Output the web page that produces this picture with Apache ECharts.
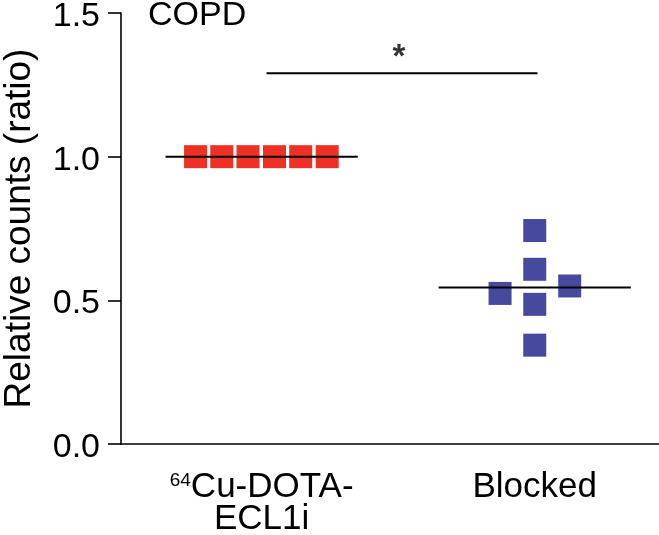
<!DOCTYPE html>
<html>
<head>
<meta charset="utf-8">
<script src="https://cdn.jsdelivr.net/npm/echarts@6/dist/echarts.min.js"></script>
<style>html,body{margin:0;padding:0;background:#fff}#c{width:659px;height:535px}</style>
</head>
<body>
<div id="c"></div>
<script>
// ---- data ----
const categories = ['64Cu-DOTA-ECL1i', 'Blocked'];
const copdValues = [1.0, 1.0, 1.0, 1.0, 1.0, 1.0];
const copdJitter = [-0.242, -0.146, -0.050, 0.047, 0.143, 0.240];
const blockedValues = [0.743, 0.608, 0.524, 0.486, 0.344, 0.550];
const blockedJitter = [0.0, 0.0, -0.127, 0.0, 0.0, 0.128];
const medians = [1.0, 0.545];
const yTicks = [0, 0.5, 1.0, 1.5];
const sigBarY = 1.29;
const sigLabel = '*';
const panelTitle = 'COPD';
const yAxisTitle = 'Relative counts (ratio)';

// ---- styling ----
const FONT = '"Liberation Sans", Arial, Helvetica, sans-serif';
const RED = '#ee3124';
const BLUE = '#454a9f';
const HALF = 0.352;

const chart = echarts.init(document.getElementById('c'));
const redPts = copdValues.map((v, i) => [1 + copdJitter[i], v]);
const bluePts = blockedValues.map((v, i) => [2 + blockedJitter[i], v]);

function hline(xc, y) { return [[xc - HALF, y], [xc + HALF, y]]; }

chart.setOption({
  animation: false,
  title: {
    text: panelTitle, left: 143, top: -6,
    textStyle: { fontFamily: FONT, fontSize: 34, fontWeight: 'normal', color: '#000' }
  },
  grid: { left: 121, right: 0, top: 13, bottom: 91, outerBoundsMode: 'none', containLabel: false },
  xAxis: {
    type: 'value', min: 0.485, max: 2.455,
    axisLine: { show: true, lineStyle: { color: '#000', width: 1.6 } },
    axisTick: { show: false },
    splitLine: { show: false },
    axisLabel: {
      customValues: [1, 2],
      margin: 27,
      fontFamily: FONT, fontSize: 35, color: '#000', lineHeight: 32,
      formatter: v => v === 1 ? '{sup|64}Cu-DOTA-\nECL1i' : categories[1],
      rich: { sup: { fontSize: 19, verticalAlign: 'top', lineHeight: 32, padding: [0, 0, 10, 0], fontFamily: FONT, color: '#000' } }
    }
  },
  yAxis: {
    type: 'value', min: 0, max: 1.5, interval: 0.5,
    name: yAxisTitle, nameLocation: 'middle', nameGap: 83,
    nameTextStyle: { fontFamily: FONT, fontSize: 37, color: '#000' },
    axisLine: { show: true, lineStyle: { color: '#000', width: 1.6 } },
    axisTick: { show: true, length: 13, lineStyle: { color: '#000', width: 1.6 } },
    splitLine: { show: false },
    axisLabel: { fontFamily: FONT, fontSize: 34, color: '#000', margin: 21,
      formatter: v => yTicks.includes(v) ? '{t|' + v.toFixed(1) + '}' : '',
      rich: { t: { fontFamily: FONT, fontSize: 34, color: '#000', padding: [7, 0, 0, 0] } } }
  },
  series: [
    { type: 'scatter', data: redPts, symbol: 'rect', symbolSize: 23,
      itemStyle: { color: RED, opacity: 1 }, z: 2 },
    { type: 'scatter', data: bluePts, symbol: 'rect', symbolSize: 23,
      itemStyle: { color: BLUE, opacity: 1 }, z: 2 },
    { type: 'line', data: hline(1, medians[0]), symbol: 'none',
      lineStyle: { color: '#000', width: 2 }, z: 3 },
    { type: 'line', data: hline(2, medians[1]), symbol: 'none',
      lineStyle: { color: '#000', width: 2 }, z: 3 },
    { type: 'line', data: [[1.018, sigBarY], [2.01, sigBarY]], symbol: 'none',
      lineStyle: { color: '#000', width: 2 }, z: 3 },
    { type: 'scatter', data: [[1.503, 1.343]], symbolSize: 0,
      label: { show: true, position: 'inside', formatter: sigLabel,
        fontFamily: FONT, fontSize: 33, fontWeight: 'bold', color: '#000' } }
  ]
});
</script>
</body>
</html>
